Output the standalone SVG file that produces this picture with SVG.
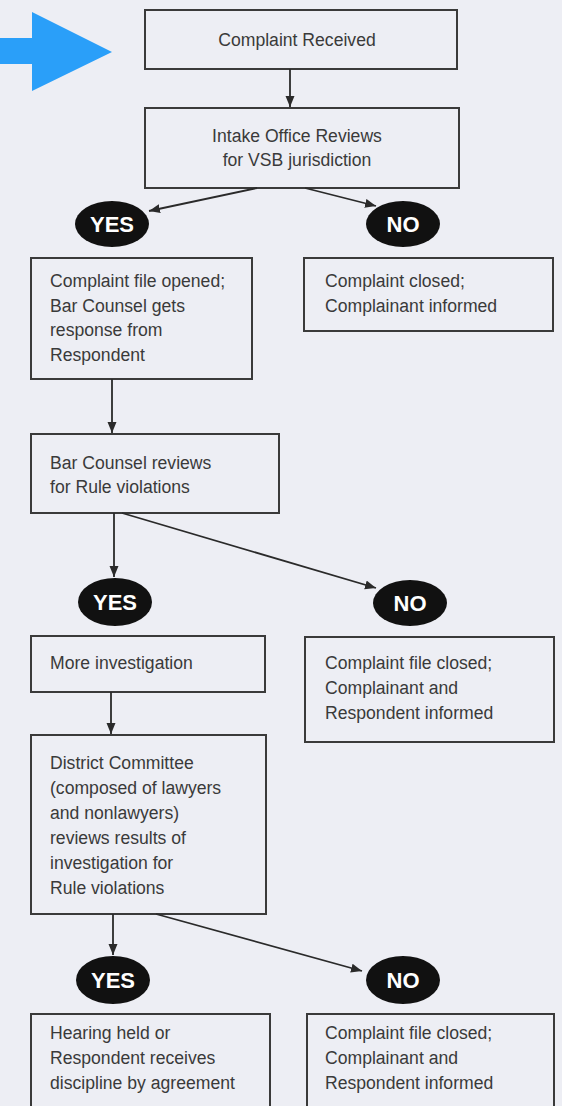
<svg xmlns="http://www.w3.org/2000/svg" width="562" height="1106" viewBox="0 0 562 1106">
<defs>
<style>
.bg{fill:#EDEEF4}
.box{fill:none;stroke:#3a3a3a;stroke-width:2}
.t{font-family:"Liberation Sans",Arial,sans-serif;font-size:17.6px;fill:#3a3a3a}
.tm{text-anchor:middle}
.oval{fill:#111}
.yn{font-family:"Liberation Sans",Arial,sans-serif;font-size:22px;font-weight:bold;fill:#fff;text-anchor:middle}
.c{fill:none;stroke:#2a2a2a;stroke-width:1.8;marker-end:url(#ah)}
</style>
<marker id="ah" markerUnits="userSpaceOnUse" markerWidth="12" markerHeight="10" refX="11" refY="4.5" orient="auto">
<path d="M0,0 L11,4.5 L0,9 z" fill="#2a2a2a"/>
</marker>
</defs>
<rect class="bg" x="0" y="0" width="562" height="1106"/>
<polygon points="0,38 32,38 32,12 112,52 32,91 32,64 0,64" fill="#2A9FF9"/>

<g id="n-received">
<rect class="box" x="145" y="10" width="312" height="59"/>
<text class="t tm" x="297" y="46">Complaint Received</text>
</g>
<g id="n-intake">
<rect class="box" x="145" y="108" width="314" height="80"/>
<text class="t tm" x="297" y="142">Intake Office Reviews</text>
<text class="t tm" x="297" y="166">for VSB jurisdiction</text>
</g>
<g id="n-yes1">
<ellipse class="oval" cx="112" cy="224" rx="37" ry="23"/>
<text class="yn" x="112" y="232">YES</text>
</g>
<g id="n-no1">
<ellipse class="oval" cx="403" cy="224" rx="37" ry="23"/>
<text class="yn" x="403" y="232">NO</text>
</g>
<g id="n-opened">
<rect class="box" x="31" y="258" width="221" height="121"/>
<text class="t" x="50" y="287">Complaint file opened;</text>
<text class="t" x="50" y="312">Bar Counsel gets</text>
<text class="t" x="50" y="336">response from</text>
<text class="t" x="50" y="361">Respondent</text>
</g>
<g id="n-closed1">
<rect class="box" x="304" y="258" width="249" height="73"/>
<text class="t" x="325" y="287">Complaint closed;</text>
<text class="t" x="325" y="312">Complainant informed</text>
</g>
<g id="n-barreview">
<rect class="box" x="31" y="434" width="248" height="79"/>
<text class="t" x="50" y="469">Bar Counsel reviews</text>
<text class="t" x="50" y="493">for Rule violations</text>
</g>
<g id="n-yes2">
<ellipse class="oval" cx="115" cy="602" rx="37" ry="24"/>
<text class="yn" x="115" y="610">YES</text>
</g>
<g id="n-no2">
<ellipse class="oval" cx="410" cy="603" rx="37" ry="23"/>
<text class="yn" x="410" y="611">NO</text>
</g>
<g id="n-moreinv">
<rect class="box" x="31" y="636" width="234" height="56"/>
<text class="t" x="50" y="669">More investigation</text>
</g>
<g id="n-closed2">
<rect class="box" x="305" y="637" width="249" height="105"/>
<text class="t" x="325" y="669">Complaint file closed;</text>
<text class="t" x="325" y="694">Complainant and</text>
<text class="t" x="325" y="719">Respondent informed</text>
</g>
<g id="n-district">
<rect class="box" x="31" y="735" width="235" height="179"/>
<text class="t" x="50" y="769">District Committee</text>
<text class="t" x="50" y="794">(composed of lawyers</text>
<text class="t" x="50" y="819">and nonlawyers)</text>
<text class="t" x="50" y="844">reviews results of</text>
<text class="t" x="50" y="869">investigation for</text>
<text class="t" x="50" y="894">Rule violations</text>
</g>
<g id="n-yes3">
<ellipse class="oval" cx="113" cy="980" rx="37" ry="24"/>
<text class="yn" x="113" y="988">YES</text>
</g>
<g id="n-no3">
<ellipse class="oval" cx="403" cy="980" rx="37" ry="24"/>
<text class="yn" x="403" y="988">NO</text>
</g>
<g id="n-hearing">
<rect class="box" x="31" y="1014" width="239" height="110"/>
<text class="t" x="50" y="1039">Hearing held or</text>
<text class="t" x="50" y="1064">Respondent receives</text>
<text class="t" x="50" y="1089">discipline by agreement</text>
</g>
<g id="n-closed3">
<rect class="box" x="307" y="1014" width="247" height="110"/>
<text class="t" x="325" y="1039">Complaint file closed;</text>
<text class="t" x="325" y="1064">Complainant and</text>
<text class="t" x="325" y="1089">Respondent informed</text>
</g>

<g id="connectors">
<line class="c" x1="290" y1="69" x2="290" y2="107"/>
<line class="c" x1="257" y1="188" x2="149" y2="211"/>
<line class="c" x1="305" y1="188" x2="376" y2="206"/>
<line class="c" x1="112" y1="379" x2="112" y2="433"/>
<line class="c" x1="114" y1="513" x2="114" y2="577"/>
<line class="c" x1="122" y1="513" x2="376" y2="588"/>
<line class="c" x1="111" y1="692" x2="111" y2="734"/>
<line class="c" x1="113" y1="914" x2="113" y2="955"/>
<line class="c" x1="156" y1="914" x2="362" y2="971"/>
</g>
</svg>
